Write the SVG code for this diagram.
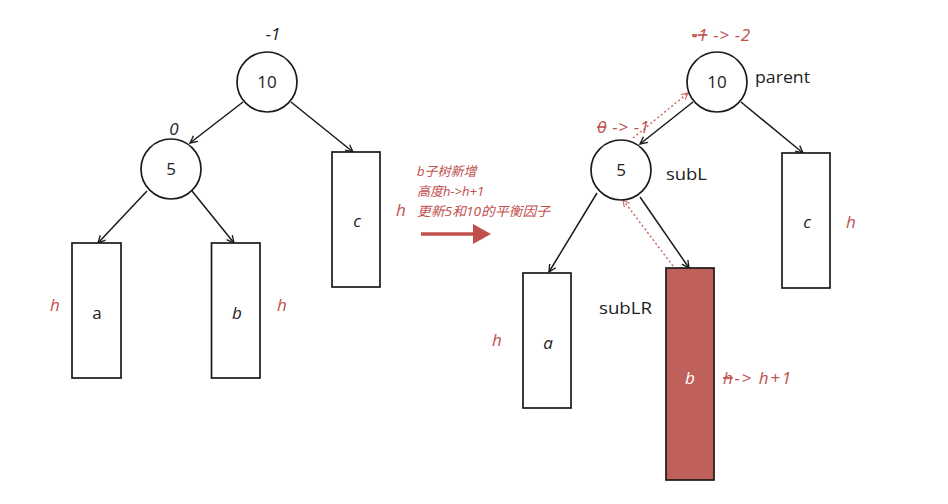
<svg xmlns="http://www.w3.org/2000/svg" width="948" height="504" viewBox="0 0 948 504">
<defs>
<style>
.node{fill:#fff;stroke:#1a1a1a;stroke-width:1.7}
.edge{stroke:#1a1a1a;stroke-width:1.5;fill:none}
.dash{stroke:#d0605a;stroke-width:1.4;fill:none;stroke-dasharray:2 2.5}
.t{font-family:"Open Sans","Liberation Sans",sans-serif;fill:#222;font-size:17px}
.i{font-style:italic}
.r{fill:#c0504d;font-family:"Open Sans","Liberation Sans",sans-serif;font-style:italic;font-size:17px}
.k{fill:#222;font-family:"Open Sans","Liberation Sans",sans-serif;font-style:italic;font-size:17px}
.cn{fill:#c0504d;font-family:"Open Sans","Noto Sans CJK SC",sans-serif;font-style:italic;font-size:13px}
</style>
<marker id="ah" viewBox="0 0 10 10" refX="9" refY="5" markerWidth="9" markerHeight="9" orient="auto" markerUnits="userSpaceOnUse">
<path d="M1,1 L9,5 L1,9" fill="none" stroke="#1a1a1a" stroke-width="1.5"/>
</marker>
<marker id="ahr" viewBox="0 0 10 10" refX="9" refY="5" markerWidth="8" markerHeight="8" orient="auto" markerUnits="userSpaceOnUse">
<path d="M1,1 L9,5 L1,9" fill="none" stroke="#d0605a" stroke-width="1.3"/>
</marker>
</defs>
<rect width="948" height="504" fill="#fff"/>

<g id="connectors">
<line class="edge" x1="243" y1="102" x2="190" y2="143" marker-end="url(#ah)"/>
<line class="edge" x1="291" y1="102" x2="353" y2="152" marker-end="url(#ah)"/>
<line class="edge" x1="147" y1="191" x2="98" y2="243" marker-end="url(#ah)"/>
<line class="edge" x1="192" y1="191" x2="234" y2="243" marker-end="url(#ah)"/>
<line class="edge" x1="693" y1="102" x2="640" y2="144" marker-end="url(#ah)"/>
<line class="edge" x1="741" y1="102" x2="803" y2="153" marker-end="url(#ah)"/>
<line class="edge" x1="597" y1="193" x2="549" y2="272" marker-end="url(#ah)"/>
<line class="edge" x1="640" y1="197" x2="689" y2="268" marker-end="url(#ah)"/>
<line class="dash" x1="633" y1="138" x2="688" y2="93" marker-end="url(#ahr)"/>
<line class="dash" x1="673" y1="266" x2="623" y2="200" marker-end="url(#ahr)"/>
<path d="M421,234 L475,234" stroke="#c0504d" stroke-width="3.5" fill="none"/>
<path d="M473,224 L491,234 L473,244 Z" fill="#c0504d"/>
</g>

<g id="n10L"><circle class="node" cx="267" cy="82" r="30"/><text class="t" x="267" y="88" text-anchor="middle">10</text></g>
<g id="n5L"><circle class="node" cx="171" cy="169" r="30"/><text class="t" x="171" y="175" text-anchor="middle">5</text></g>
<g id="aL"><rect class="node" x="72" y="243" width="49" height="135"/><text class="t" x="97" y="319" text-anchor="middle">a</text></g>
<g id="bL"><rect class="node" x="211.5" y="243" width="48.5" height="135"/><text class="t i" x="237" y="319" text-anchor="middle">b</text></g>
<g id="cL"><rect class="node" x="332" y="152" width="48" height="135"/><text class="t i" x="357" y="227" text-anchor="middle">c</text></g>

<g id="labelsL">
<text class="k" x="273" y="40" text-anchor="middle">-1</text>
<text class="k" x="174" y="135" text-anchor="middle">0</text>
<text class="r" x="55" y="311" text-anchor="middle">h</text>
<text class="r" x="282" y="311" text-anchor="middle">h</text>
<text class="r" x="401" y="216" text-anchor="middle">h</text>
</g>

<g id="note">
<text class="cn" x="417" y="176">b子树新增</text>
<text class="cn" x="417" y="196">高度h-&gt;h+1</text>
<text class="cn" x="417" y="216" textLength="133" lengthAdjust="spacingAndGlyphs">更新5和10的平衡因子</text>
</g>

<g id="n10R"><circle class="node" cx="717" cy="82" r="30"/><text class="t" x="717" y="88" text-anchor="middle">10</text></g>
<g id="n5R"><circle class="node" cx="621" cy="170" r="30"/><text class="t" x="621" y="176" text-anchor="middle">5</text></g>
<g id="aR"><rect class="node" x="523" y="273" width="48" height="135"/><text class="t i" x="548" y="349" text-anchor="middle">a</text></g>
<g id="bR"><rect x="666" y="268" width="48" height="212" fill="#c0605a" stroke="#1a1a1a" stroke-width="1.7"/><text class="t i" x="690" y="384" text-anchor="middle" style="fill:#fff">b</text></g>
<g id="cR"><rect class="node" x="782" y="153" width="48" height="135"/><text class="t i" x="807" y="228" text-anchor="middle">c</text></g>

<g id="labelsR">
<text class="t" x="755" y="83" textLength="55" lengthAdjust="spacingAndGlyphs">parent</text>
<text class="t" x="666" y="180" textLength="41" lengthAdjust="spacingAndGlyphs">subL</text>
<text class="t" x="599" y="314" textLength="53" lengthAdjust="spacingAndGlyphs">subLR</text>
<text class="r" x="692" y="41" textLength="58"><tspan text-decoration="line-through">-1</tspan> -&gt; -2</text>
<text class="r" x="597" y="133" textLength="52"><tspan text-decoration="line-through">0</tspan> -&gt; -1</text>
<text class="r" x="723" y="384" textLength="68"><tspan text-decoration="line-through">h</tspan>-&gt; h+1</text>
<text class="r" x="497" y="346" text-anchor="middle">h</text>
<text class="r" x="851" y="228" text-anchor="middle">h</text>
</g>
</svg>
